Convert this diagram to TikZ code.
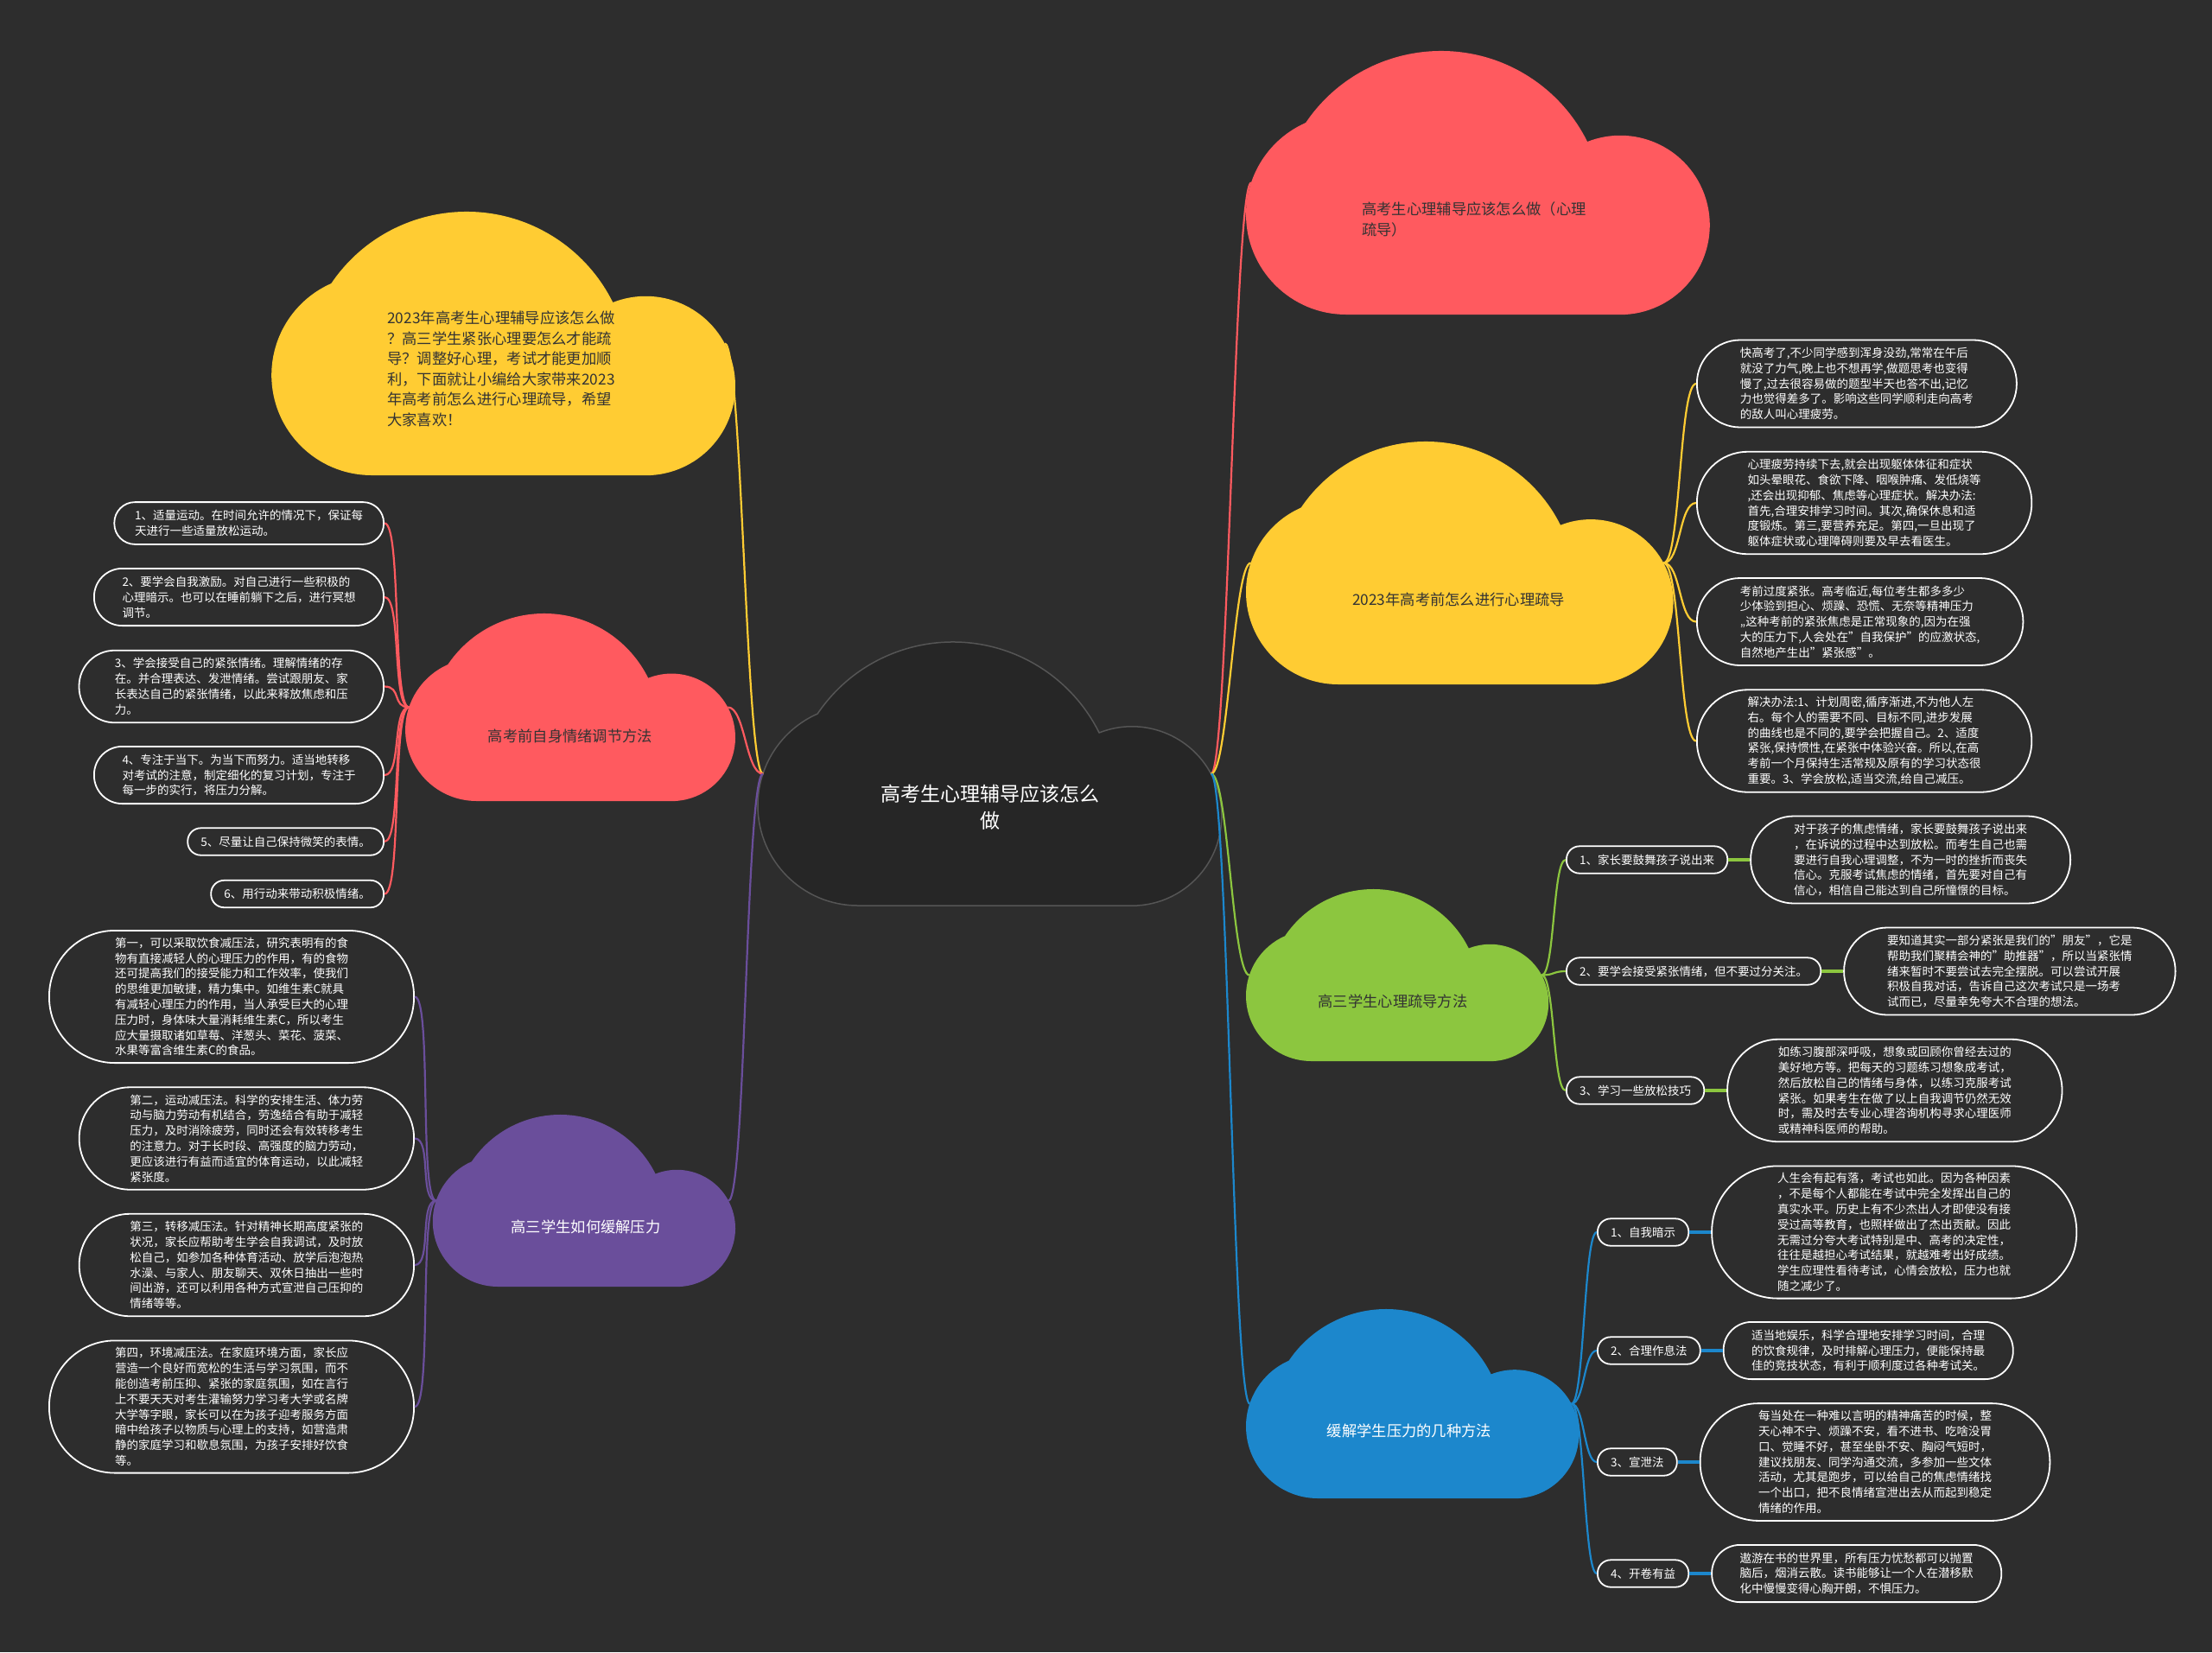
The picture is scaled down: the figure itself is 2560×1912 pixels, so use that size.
\documentclass[tikz,border=0pt]{standalone}
\usepackage{fontspec}
\setmainfont{Noto Sans CJK SC}
\usetikzlibrary{positioning}

\definecolor{bg}{HTML}{2D2D2D}
\definecolor{rootfill}{HTML}{262626}
\definecolor{rootline}{HTML}{555555}
\definecolor{ink}{HTML}{333333}
\definecolor{cred}{HTML}{FF5A5F}
\definecolor{cyel}{HTML}{FFCC33}
\definecolor{cgrn}{HTML}{8CC63F}
\definecolor{cblu}{HTML}{1C87CC}
\definecolor{cpur}{HTML}{6A4E9B}

\tikzset{
  pics/cloud/.style={code={
    \path[pic actions] (0.38,1) arc[start angle=90, end angle=246.2, radius=0.38]
      arc[start angle=214.1, end angle=333.6, radius=0.62]
      arc[start angle=248.5, end angle=450, radius=0.34] -- cycle;
    \coordinate (-w) at (0.02,0.5);
    \coordinate (-e) at (1.72,0.5);
  }},
  cloudtxt/.style={font=\fontsize{17.3}{23.5}\selectfont, text=ink, align=left},
  % #1 = number of text lines
  leaf/.style={rectangle, draw=white, line width=1.8pt, fill=bg, text=white,
    font=\fontsize{13.5}{17.8}\selectfont, align=left,
    minimum height={17.4*#1+14}, rounded corners={8.7*#1+6.5},
    inner xsep={8.7*#1+6.5}, inner ysep=1pt},
  tag/.style={leaf=1},
  link/.style={line width=2.2pt},
  bond/.style={line width=4pt},
  fan/.style={to path={.. controls +(#1,0) and +(-#1,0) .. (\tikztotarget)}},
}

\begin{document}
\begin{tikzpicture}[x=1pt,y=-1pt]
  \useasboundingbox (0,0) rectangle (2560,1912);
  \fill[bg] (0,0) rectangle (2560,1912);

  % clouds
  \pic (ctr) [fill=rootfill, draw=rootline, line width=1.5pt, scale=305] at (877,743) {cloud};
  \pic (tl) [fill=cyel, scale=305] at (314.2,245) {cloud};
  \pic (lr) [fill=cred, scale=217] at (469.1,710) {cloud};
  \pic (pu) [fill=cpur, scale=199] at (500.8,1290) {cloud};
  \pic (tr) [fill=cred, scale=305] at (1442,59) {cloud};
  \pic (ry) [fill=cyel, scale=281] at (1442,511) {cloud};
  \pic (gr) [fill=cgrn, scale=199] at (1442,1029) {cloud};
  \pic (bl) [fill=cblu, scale=219] at (1442,1515) {cloud};

  \node[cloudtxt, text=white, align=center, font=\fontsize{23}{31}\selectfont] (ctrt) at (1146,934)
    {高考生心理辅导应该怎么\\做};
  \node[cloudtxt] (tlt) at (580,427)
    {2023年高考生心理辅导应该怎么做\\？高三学生紧张心理要怎么才能疏\\导？调整好心理，考试才能更加顺\\利，下面就让小编给大家带来2023\\年高考前怎么进行心理疏导，希望\\大家喜欢！};
  \node[cloudtxt] (lrt) at (660,852) {高考前自身情绪调节方法};
  \node[cloudtxt, text=white] (put) at (678,1420) {高三学生如何缓解压力};
  \node[cloudtxt] (trt) at (1706,254) {高考生心理辅导应该怎么做（心理\\疏导）};
  \node[cloudtxt] (ryt) at (1688,694) {2023年高考前怎么进行心理疏导};
  \node[cloudtxt] (grt) at (1612,1159) {高三学生心理疏导方法};
  \node[cloudtxt, text=white] (blt) at (1631,1656) {缓解学生压力的几种方法};

  % main branches
  \draw[link, cyel] (ctr-w) to[fan=-20] (tl-e);
  \draw[link, cred] (ctr-w) to[fan=-20] (lr-e);
  \draw[link, cpur] (ctr-w) to[fan=-20] (pu-e);
  \draw[link, cred] (ctr-e) to[fan=20] (tr-w);
  \draw[link, cyel] (ctr-e) to[fan=20] (ry-w);
  \draw[link, cgrn] (ctr-e) to[fan=20] (gr-w);
  \draw[link, cblu] (ctr-e) to[fan=20] (bl-w);

  % left: emotion tips
  \node[leaf=2, anchor=east] (l1) at (445,605.5)
    {1、适量运动。在时间允许的情况下，保证每\\天进行一些适量放松运动。};
  \node[leaf=3, anchor=east] (l2) at (445,691)
    {2、要学会自我激励。对自己进行一些积极的\\心理暗示。也可以在睡前躺下之后，进行冥想\\调节。};
  \node[leaf=4, anchor=east] (l3) at (445,794.5)
    {3、学会接受自己的紧张情绪。理解情绪的存\\在。并合理表达、发泄情绪。尝试跟朋友、家\\长表达自己的紧张情绪，以此来释放焦虑和压\\力。};
  \node[leaf=3, anchor=east] (l4) at (445,897)
    {4、专注于当下。为当下而努力。适当地转移\\对考试的注意，制定细化的复习计划，专注于\\每一步的实行，将压力分解。};
  \node[leaf=1, anchor=east] (l5) at (445,974) {5、尽量让自己保持微笑的表情。};
  \node[leaf=1, anchor=east] (l6) at (445,1034.5) {6、用行动来带动积极情绪。};
  \foreach \n in {l1,l2,l3,l4,l5,l6}
    \draw[link, cred] (lr-w) to[fan=-20] (\n.east);

  % left: pressure relief
  \node[leaf=8, anchor=east] (p1) at (480,1153.5)
    {第一，可以采取饮食减压法，研究表明有的食\\物有直接减轻人的心理压力的作用，有的食物\\还可提高我们的接受能力和工作效率，使我们\\的思维更加敏捷，精力集中。如维生素C就具\\有减轻心理压力的作用，当人承受巨大的心理\\压力时，身体味大量消耗维生素C，所以考生\\应大量摄取诸如草莓、洋葱头、菜花、菠菜、\\水果等富含维生素C的食品。};
  \node[leaf=6, anchor=east] (p2) at (480,1317.5)
    {第二，运动减压法。科学的安排生活、体力劳\\动与脑力劳动有机结合，劳逸结合有助于减轻\\压力，及时消除疲劳，同时还会有效转移考生\\的注意力。对于长时段、高强度的脑力劳动，\\更应该进行有益而适宜的体育运动，以此减轻\\紧张度。};
  \node[leaf=6, anchor=east] (p3) at (480,1464)
    {第三，转移减压法。针对精神长期高度紧张的\\状况，家长应帮助考生学会自我调试，及时放\\松自己，如参加各种体育活动、放学后泡泡热\\水澡、与家人、朋友聊天、双休日抽出一些时\\间出游，还可以利用各种方式宣泄自己压抑的\\情绪等等。};
  \node[leaf=8, anchor=east] (p4) at (480,1628)
    {第四，环境减压法。在家庭环境方面，家长应\\营造一个良好而宽松的生活与学习氛围，而不\\能创造考前压抑、紧张的家庭氛围，如在言行\\上不要天天对考生灌输努力学习考大学或名牌\\大学等字眼，家长可以在为孩子迎考服务方面\\暗中给孩子以物质与心理上的支持，如营造肃\\静的家庭学习和歇息氛围，为孩子安排好饮食\\等。};
  \foreach \n in {p1,p2,p3,p4}
    \draw[link, cpur] (pu-w) to[fan=-20] (\n.east);

  % right: yellow branch
  \node[leaf=5, anchor=west] (r1) at (1963,444)
    {快高考了,不少同学感到浑身没劲,常常在午后\\就没了力气,晚上也不想再学,做题思考也变得\\慢了,过去很容易做的题型半天也答不出,记忆\\力也觉得差多了。影响这些同学顺利走向高考\\的敌人叫心理疲劳。};
  \node[leaf=6, anchor=west] (r2) at (1963,582)
    {心理疲劳持续下去,就会出现躯体体征和症状\\如头晕眼花、食欲下降、咽喉肿痛、发低烧等\\,还会出现抑郁、焦虑等心理症状。解决办法:\\首先,合理安排学习时间。其次,确保休息和适\\度锻炼。第三,要营养充足。第四,一旦出现了\\躯体症状或心理障碍则要及早去看医生。};
  \node[leaf=5, anchor=west] (r3) at (1963,719.5)
    {考前过度紧张。高考临近,每位考生都多多少\\少体验到担心、烦躁、恐慌、无奈等精神压力\\,,这种考前的紧张焦虑是正常现象的,因为在强\\大的压力下,人会处在"自我保护"的应激状态,\\自然地产生出"紧张感"。};
  \node[leaf=6, anchor=west] (r4) at (1963,857.5)
    {解决办法:1、计划周密,循序渐进,不为他人左\\右。每个人的需要不同、目标不同,进步发展\\的曲线也是不同的,要学会把握自己。2、适度\\紧张,保持惯性,在紧张中体验兴奋。所以,在高\\考前一个月保持生活常规及原有的学习状态很\\重要。3、学会放松,适当交流,给自己减压。};
  \foreach \n in {r1,r2,r3,r4}
    \draw[link, cyel] (ry-e) to[fan=20] (\n.west);

  % right: green branch
  \node[tag, anchor=west] (g1) at (1812,995) {1、家长要鼓舞孩子说出来};
  \node[tag, anchor=west] (g2) at (1812,1124) {2、要学会接受紧张情绪，但不要过分关注。};
  \node[tag, anchor=west] (g3) at (1812,1262) {3、学习一些放松技巧};
  \node[leaf=5, right=25pt of g1] (g1d)
    {对于孩子的焦虑情绪，家长要鼓舞孩子说出来\\，在诉说的过程中达到放松。而考生自己也需\\要进行自我心理调整，不为一时的挫折而丧失\\信心。克服考试焦虑的情绪，首先要对自己有\\信心，相信自己能达到自己所憧憬的目标。};
  \node[leaf=5, right=25pt of g2] (g2d)
    {要知道其实一部分紧张是我们的"朋友"，它是\\帮助我们聚精会神的"助推器"，所以当紧张情\\绪来暂时不要尝试去完全摆脱。可以尝试开展\\积极自我对话，告诉自己这次考试只是一场考\\试而已，尽量幸免夸大不合理的想法。};
  \node[leaf=6, right=25pt of g3] (g3d)
    {如练习腹部深呼吸，想象或回顾你曾经去过的\\美好地方等。把每天的习题练习想象成考试，\\然后放松自己的情绪与身体，以练习克服考试\\紧张。如果考生在做了以上自我调节仍然无效\\时，需及时去专业心理咨询机构寻求心理医师\\或精神科医师的帮助。};
  \foreach \n in {g1,g2,g3} {
    \draw[link, cgrn] (gr-e) to[fan=15] (\n.west);
    \draw[bond, cgrn] (\n.east) -- (\n d.west);
  }

  % right: blue branch
  \node[tag, anchor=west] (b1) at (1848,1426) {1、自我暗示};
  \node[tag, anchor=west] (b2) at (1848,1563) {2、合理作息法};
  \node[tag, anchor=west] (b3) at (1848,1692) {3、宣泄法};
  \node[tag, anchor=west] (b4) at (1848,1821) {4、开卷有益};
  \node[leaf=8, right=25pt of b1] (b1d)
    {人生会有起有落，考试也如此。因为各种因素\\，不是每个人都能在考试中完全发挥出自己的\\真实水平。历史上有不少杰出人才即使没有接\\受过高等教育，也照样做出了杰出贡献。因此\\无需过分夸大考试特别是中、高考的决定性，\\往往是越担心考试结果，就越难考出好成绩。\\学生应理性看待考试，心情会放松，压力也就\\随之减少了。};
  \node[leaf=3, right=25pt of b2] (b2d)
    {适当地娱乐，科学合理地安排学习时间，合理\\的饮食规律，及时排解心理压力，便能保持最\\佳的竞技状态，有利于顺利度过各种考试关。};
  \node[leaf=7, right=25pt of b3] (b3d)
    {每当处在一种难以言明的精神痛苦的时候，整\\天心神不宁、烦躁不安，看不进书、吃啥没胃\\口、觉睡不好，甚至坐卧不安、胸闷气短时，\\建议找朋友、同学沟通交流，多参加一些文体\\活动，尤其是跑步，可以给自己的焦虑情绪找\\一个出口，把不良情绪宣泄出去从而起到稳定\\情绪的作用。};
  \node[leaf=3, right=25pt of b4] (b4d)
    {遨游在书的世界里，所有压力忧愁都可以抛置\\脑后，烟消云散。读书能够让一个人在潜移默\\化中慢慢变得心胸开朗，不惧压力。};
  \foreach \n in {b1,b2,b3,b4} {
    \draw[link, cblu] (bl-e) to[fan=15] (\n.west);
    \draw[bond, cblu] (\n.east) -- (\n d.west);
  }
\end{tikzpicture}
\end{document}
